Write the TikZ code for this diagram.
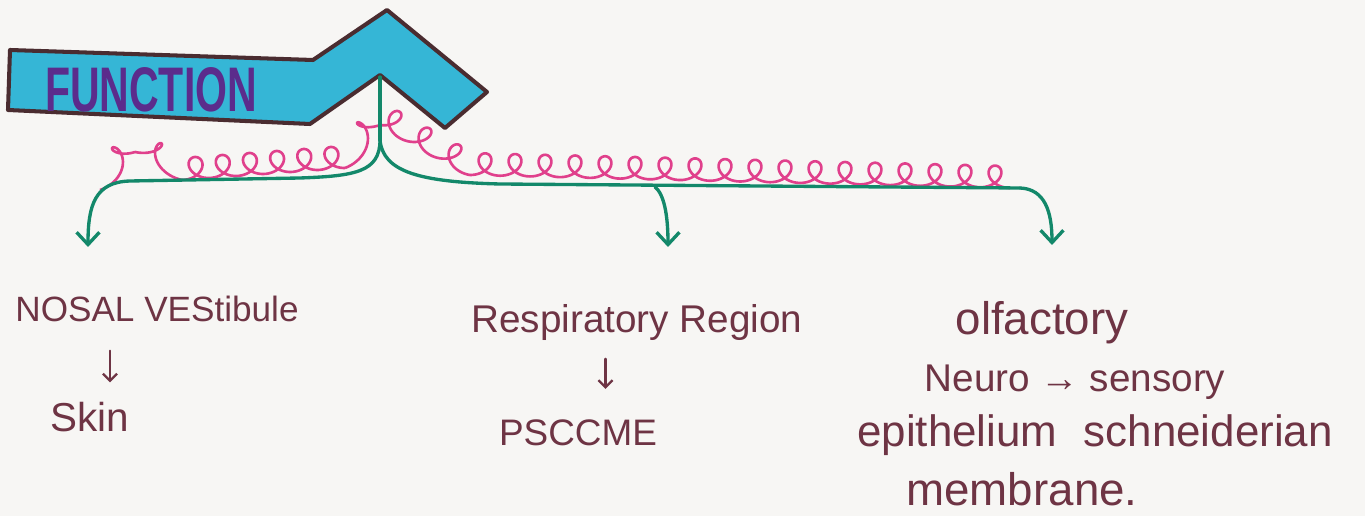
\documentclass[tikz,border=0pt]{standalone}
\usepackage{fontspec}
\setmainfont{Liberation Sans}
\usetikzlibrary{arrows.meta,calc}
\definecolor{paper}{HTML}{F7F6F4}
\definecolor{cyanf}{HTML}{35B6D6}
\definecolor{bord}{HTML}{4A2C30}
\definecolor{purp}{HTML}{5B2C8C}
\definecolor{grn}{HTML}{13886A}
\definecolor{pnk}{HTML}{E0408C}
\definecolor{ink}{HTML}{6E3444}
\begin{document}
\begin{tikzpicture}[x=0.02cm,y=-0.02cm,
  lbl/.style={text=ink,inner sep=0pt,anchor=base},
  banner/.style={fill=cyanf,draw=bord,line width=2.3pt,line join=round},
  branch/.style={draw=grn,line width=1.9pt,line cap=round,-{Straight Barb[length=7pt,width=13pt,line width=1.9pt]}},
  trunk/.style={draw=grn,line width=1.9pt,line cap=round},
  smallarr/.style={draw=ink,line width=1.3pt,line cap=round,-{Straight Barb[length=4pt,width=8pt,line width=1.3pt]}},
  curl/.style={draw=pnk,line width=1.5pt,line join=round}]
\useasboundingbox (0,0) rectangle (1365,516);
\fill[paper] (0,0) rectangle (1365,516);
% banner
\path[banner] (10,50) -- (313,60) -- (387,10) -- (487,92) -- (445,128) -- (380,75) -- (310,124) -- (8,110) -- cycle;
\node[inner sep=0pt,text=purp] (func) at (151,90) {\resizebox{4.24cm}{0.88cm}{\bfseries FUNCTION}};
\coordinate (notch) at (380,77);
\coordinate (split) at (380,140);
\coordinate (t1) at (88,247);
\coordinate (t2) at (668,247);
\coordinate (t3) at (1052,245);
\coordinate (mid) at (655,187);
% pink curly line (trochoid loops along segments)
\foreach \xa/\ya/\xb/\yb/\n in {100/190/135/152/1, 135/152/182/180/1, 182/180/345/168/6, 345/168/380/125/1, 380/125/470/175/3, 470/175/1010/188/18}{
  \draw[curl] plot[domain=0:\n*360,samples=\n*40+1,variable=\t,smooth]
    ({\xa+(\xb-\xa)*(\t/(\n*360))+13*sin(\t)},{\ya+(\yb-\ya)*(\t/(\n*360))-11*(1-cos(\t))});
}
% green connectors
\draw[trunk] (notch) -- (split);
\draw[branch] (split) .. controls (380,172) and (355,176) .. (300,178) -- (130,181) .. controls (95,182) and (88,205) .. (t1);
\draw[trunk] (split) .. controls (383,172) and (420,182) .. (500,184) -- (1020,188);
\draw[branch] (1020,188) .. controls (1045,189) and (1052,212) .. (t3);
\draw[branch] (mid) .. controls (664,194) and (668,215) .. (t2);
% labels
\node[lbl,font=\fontsize{20}{22}\selectfont] (nosal) at (157,322) {NOSAL VEStibule};
\node[lbl,font=\fontsize{23}{26}\selectfont] (skin) at (90,432) {Skin};
\node[lbl,font=\fontsize{22}{26}\selectfont] (resp) at (637,333) {Respiratory Region};
\node[lbl,font=\fontsize{21}{24}\selectfont] (pscc) at (578,445) {PSCCME};
\node[lbl,font=\fontsize{26}{30}\selectfont] (olf) at (1042,335) {olfactory};
\node[lbl,font=\fontsize{22}{26}\selectfont] (neuro) at (1075,392) {Neuro → sensory};
\node[lbl,font=\fontsize{25}{28}\selectfont] (epi) at (1095,447) {epithelium\hspace{0.6em}schneiderian};
\node[lbl,font=\fontsize{26}{30}\selectfont] (memb) at (1022,505) {membrane.};
% small arrows
\draw[smallarr] ([xshift=0.4cm]skin.north |- nosal.south) ++(0,-0.56cm) -- ([xshift=0.4cm,yshift=0.4cm]skin.north);
\draw[smallarr] ([xshift=0.55cm]pscc.north |- resp.south) ++(0,-0.35cm) -- ([xshift=0.55cm,yshift=0.6cm]pscc.north);
\end{tikzpicture}
\end{document}
